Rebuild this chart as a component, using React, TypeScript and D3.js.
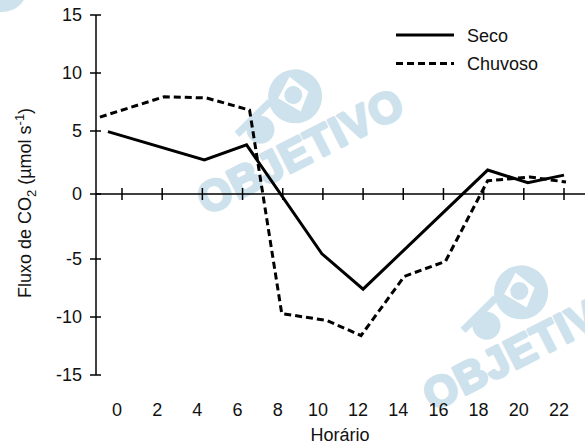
import React from "react";
import * as d3 from "d3";

// ---- data ----
const xTicks = [0, 2, 4, 6, 8, 10, 12, 14, 16, 18, 20, 22];
const yTicks = [-15, -10, -5, 0, 5, 10, 15];

const secoHours = [-0.7, 4.1, 6.2, 9.95, 12.0, 18.2, 20.2, 22.0];
const secoValues = [4.95, 2.7, 3.9, -4.6, -7.6, 1.9, 0.9, 1.5];

const chuvosoHours = [-1.1, 2.1, 4.2, 6.35, 7.95, 10.2, 11.9, 14.05, 16.1, 18.2, 20.3, 22.1];
const chuvosoValues = [6.2, 7.95, 7.85, 6.8, -9.7, -10.3, -11.6, -6.5, -5.2, 1.05, 1.35, 0.95];

const seriesNames = ["Seco", "Chuvoso"];
const xTitle = "Horário";

const W = 585;
const H = 445;
const FONT = "'Liberation Sans', Arial, Helvetica, sans-serif";
const WM = "#cde2ec";

const x = d3.scaleLinear().domain([0, 22]).range([122, 564]);
// hand-drawn original axis: slightly uneven spacing, modelled piecewise
const y = d3
  .scaleLinear()
  .domain([-15, -10, -5, 0, 5, 10, 15])
  .range([375, 317, 259, 194, 131, 73, 15]);

const line = d3
  .line<[number, number]>()
  .x((d) => x(d[0]))
  .y((d) => y(d[1]));

const secoPts: [number, number][] = secoHours.map((h, i) => [h, secoValues[i]]);
const chuvPts: [number, number][] = chuvosoHours.map((h, i) => [h, chuvosoValues[i]]);

function Watermark({ cx, cy }: { cx: number; cy: number }) {
  return (
    <g transform={`translate(${cx},${cy}) rotate(-27)`}>
      <text
        x={0}
        y={16}
        textAnchor="middle"
        fontFamily={FONT}
        fontWeight={900}
        fontSize={43}
        fill={WM}
        stroke={WM}
        strokeWidth={3}
        strokeLinejoin="round"
        letterSpacing={1}
      >
        OBJETIVO
      </text>
      {/* logo symbol */}
      <g transform="translate(20,-50)">
        <circle cx={0} cy={0} r={27} fill={WM} />
        <path d="M-16,-6 L4,-20 L14,2 L-2,16 Z" fill="#fff" />
        <circle cx={-1} cy={-2} r={9} fill={WM} />
      </g>
      <circle cx={-26} cy={-36} r={14} fill={WM} />
      <path d="M-50,-46 L-6,-60 L-4,-53 L-48,-39 Z" fill={WM} />
    </g>
  );
}

export default function App() {
  const y0 = y(0);
  return (
    <svg width={W} height={H} style={{ display: "block", position: "absolute", left: 0, top: 0, background: "#fff" }}>
      <rect x={0} y={0} width={W} height={H} fill="#fff" />
      {/* watermarks */}
      <Watermark cx={300} cy={150} />
      <Watermark cx={526} cy={346} />
      <circle cx={2} cy={-14} r={26} fill={WM} />

      {/* y axis */}
      <line x1={96} x2={96} y1={y(15)} y2={y(-15)} stroke="#000" strokeWidth={1.5} />
      {yTicks.map((t) => (
        <g key={t}>
          <line x1={90} x2={101} y1={y(t)} y2={y(t)} stroke="#000" strokeWidth={1.5} />
          <text
            x={82}
            y={y(t)}
            dy="0.36em"
            textAnchor="end"
            fontFamily={FONT}
            fontSize={18}
            fill="#111"
          >
            {t}
          </text>
        </g>
      ))}

      {/* x axis (at zero) */}
      <line x1={96} x2={W} y1={y0} y2={y0} stroke="#000" strokeWidth={1.5} />
      {xTicks.map((t) => (
        <g key={t}>
          <line x1={x(t)} x2={x(t)} y1={y0 - 6} y2={y0 + 6} stroke="#000" strokeWidth={1.5} />
          <text
            x={x(t) - 5}
            y={416}
            textAnchor="middle"
            fontFamily={FONT}
            fontSize={18}
            fill="#111"
          >
            {t}
          </text>
        </g>
      ))}

      {/* titles */}
      <text x={340} y={441} textAnchor="middle" fontFamily={FONT} fontSize={18} fill="#111">
        {xTitle}
      </text>
      <text
        transform="translate(31,203) rotate(-90)"
        textAnchor="middle"
        fontFamily={FONT}
        fontSize={18}
        fill="#111"
      >
        Fluxo de CO
        <tspan fontSize={13} dy={5}>2</tspan>
        <tspan dy={-5}> (µmol s</tspan>
        <tspan fontSize={13} dy={-7}>-1</tspan>
        <tspan dy={7}>)</tspan>
      </text>

      {/* series */}
      <path d={line(secoPts) || ""} fill="none" stroke="#000" strokeWidth={3} strokeLinejoin="miter" />
      <path
        d={line(chuvPts) || ""}
        fill="none"
        stroke="#000"
        strokeWidth={3}
        strokeDasharray="7,4"
      />

      {/* legend */}
      <line x1={396} x2={454} y1={35} y2={35} stroke="#000" strokeWidth={3} />
      <text x={467} y={41.5} fontFamily={FONT} fontSize={18} fill="#111">
        {seriesNames[0]}
      </text>
      <line x1={396} x2={454} y1={63.5} y2={63.5} stroke="#000" strokeWidth={3} strokeDasharray="7,4" />
      <text x={467} y={70} fontFamily={FONT} fontSize={18} fill="#111">
        {seriesNames[1]}
      </text>
    </svg>
  );
}
